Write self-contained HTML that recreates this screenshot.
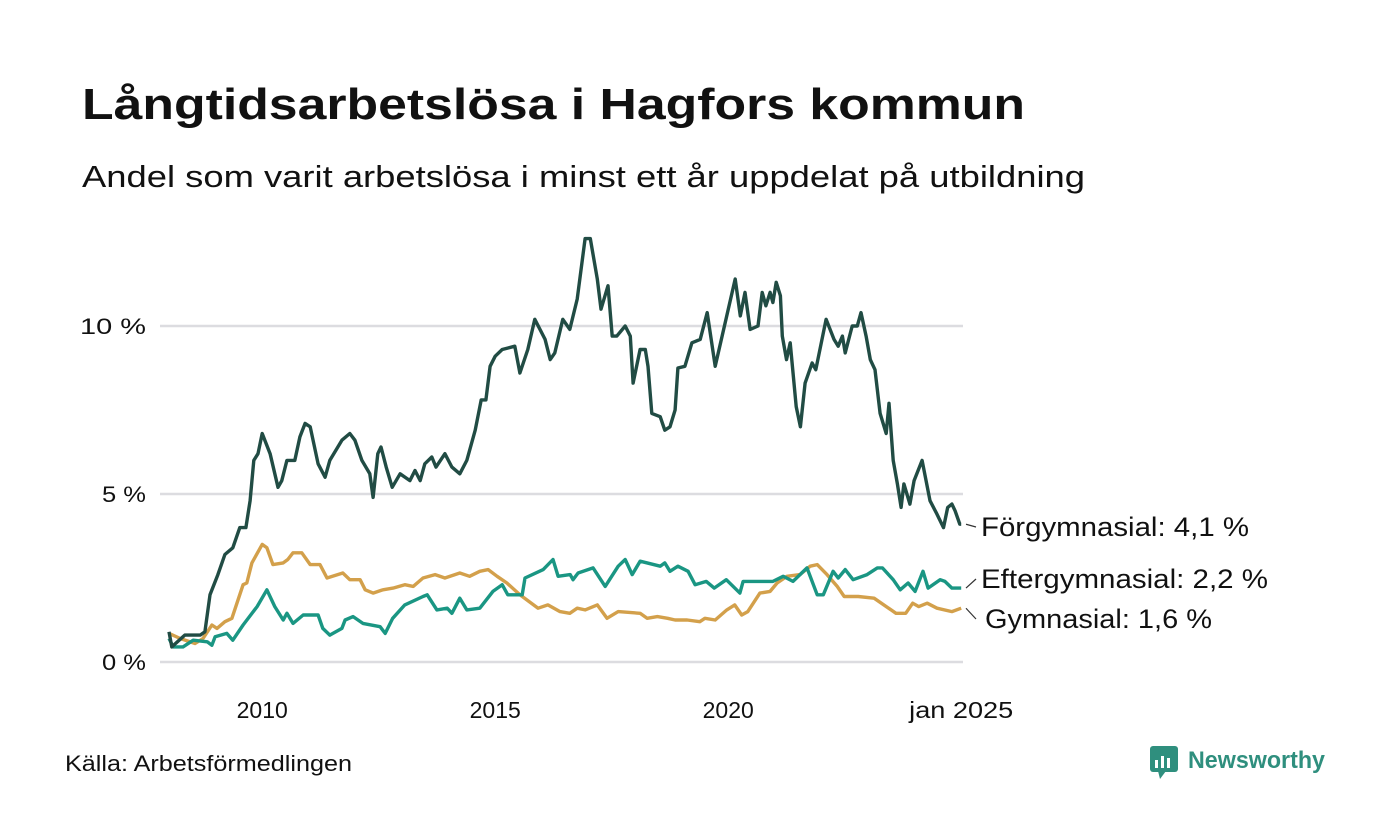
<!DOCTYPE html>
<html><head><meta charset="utf-8"><style>
html,body{margin:0;padding:0;background:#fff;}
svg{display:block;font-family:"Liberation Sans",sans-serif;}
</style></head><body>
<svg id="chart" width="1400" height="840" viewBox="0 0 1400 840">
<text x="82" y="119" font-size="44" font-weight="bold" fill="#111" textLength="943" lengthAdjust="spacingAndGlyphs">Långtidsarbetslösa i Hagfors kommun</text>
<text x="82" y="187" font-size="31" fill="#111" textLength="1003" lengthAdjust="spacingAndGlyphs">Andel som varit arbetslösa i minst ett år uppdelat på utbildning</text>
<g id="grid"></g>
<g id="xaxis"></g>
<g id="series"></g>
<g id="labels"></g>
<text x="65" y="771" font-size="22" fill="#111" textLength="287" lengthAdjust="spacingAndGlyphs">Källa: Arbetsförmedlingen</text>
<g>
<rect x="1150" y="746" width="28" height="26" rx="3" fill="#2f8f7e"/>
<polygon points="1158,771 1166,771 1160,779" fill="#2f8f7e"/>
<rect x="1155" y="760" width="3" height="8" fill="#fff"/><rect x="1161" y="756" width="3" height="12" fill="#fff"/><rect x="1167" y="758" width="3" height="10" fill="#fff"/>
<text x="1188" y="768" font-size="24" font-weight="bold" fill="#2f8f7e" textLength="137" lengthAdjust="spacingAndGlyphs">Newsworthy</text>
</g>
</svg>
<script>
const yTicks=[0,5,10];
const yTickLabels=["0 %","5 %","10 %"];
const yTickWidths=[44,44,66];
const xTicks=[2010,2015,2020,2025];
const xTickLabels=["2010","2015","2020","jan 2025"];
const forYears=[2008.0,2008.06,2008.34,2008.67,2008.77,2008.88,2009.05,2009.2,2009.37,2009.52,2009.65,2009.74,2009.82,2009.91,2010.0,2010.17,2010.34,2010.42,2010.53,2010.7,2010.81,2010.92,2011.03,2011.2,2011.35,2011.45,2011.71,2011.88,2011.99,2012.14,2012.31,2012.38,2012.48,2012.55,2012.66,2012.79,2012.96,2013.17,2013.28,2013.39,2013.49,2013.64,2013.73,2013.92,2014.07,2014.24,2014.39,2014.57,2014.7,2014.8,2014.89,2015.0,2015.15,2015.42,2015.53,2015.7,2015.85,2016.07,2016.18,2016.28,2016.45,2016.6,2016.76,2016.93,2017.04,2017.19,2017.27,2017.42,2017.51,2017.61,2017.79,2017.9,2017.96,2018.11,2018.22,2018.28,2018.36,2018.54,2018.64,2018.75,2018.86,2018.92,2019.07,2019.22,2019.4,2019.55,2019.72,2020.15,2020.26,2020.36,2020.47,2020.64,2020.73,2020.81,2020.9,2020.96,2021.03,2021.12,2021.16,2021.25,2021.33,2021.46,2021.55,2021.65,2021.8,2021.88,2022.1,2022.27,2022.36,2022.45,2022.51,2022.66,2022.77,2022.85,2022.96,2023.05,2023.15,2023.26,2023.39,2023.45,2023.54,2023.63,2023.71,2023.77,2023.9,2023.99,2024.16,2024.33,2024.48,2024.62,2024.71,2024.8,2024.87,2024.97,2025.0];
const forValues=[0.9,0.45,0.8,0.8,0.9,2.0,2.6,3.2,3.4,4.0,4.0,4.8,6.0,6.2,6.8,6.2,5.2,5.4,6.0,6.0,6.7,7.1,7.0,5.9,5.5,6.0,6.6,6.8,6.6,6.0,5.6,4.9,6.2,6.4,5.8,5.2,5.6,5.4,5.7,5.4,5.9,6.1,5.8,6.2,5.8,5.6,6.0,6.9,7.8,7.8,8.8,9.1,9.3,9.4,8.6,9.3,10.2,9.6,9.0,9.2,10.2,9.9,10.8,12.6,12.6,11.4,10.5,11.2,9.7,9.7,10.0,9.7,8.3,9.3,9.3,8.8,7.4,7.3,6.9,7.0,7.5,8.75,8.8,9.5,9.6,10.4,8.8,11.4,10.3,11.0,9.9,10.0,11.0,10.6,11.0,10.7,11.3,10.9,9.7,9.0,9.5,7.6,7.0,8.3,8.9,8.7,10.2,9.6,9.4,9.7,9.2,10.0,10.0,10.4,9.7,9.0,8.7,7.4,6.8,7.7,6.0,5.3,4.6,5.3,4.7,5.4,6.0,4.8,4.4,4.0,4.6,4.7,4.5,4.1,4.1];
const eftYears=[2008.0,2008.09,2008.3,2008.52,2008.82,2008.92,2008.99,2009.24,2009.37,2009.59,2009.89,2010.1,2010.27,2010.45,2010.53,2010.66,2010.88,2011.2,2011.3,2011.45,2011.71,2011.78,2011.95,2012.16,2012.53,2012.64,2012.8,2013.06,2013.45,2013.54,2013.75,2013.97,2014.07,2014.24,2014.39,2014.67,2014.95,2015.15,2015.27,2015.58,2015.64,2016.03,2016.24,2016.35,2016.61,2016.67,2016.78,2017.1,2017.36,2017.64,2017.79,2017.94,2018.11,2018.54,2018.64,2018.75,2018.92,2019.14,2019.29,2019.53,2019.7,2019.96,2020.25,2020.32,2020.96,2021.18,2021.39,2021.69,2021.91,2022.04,2022.25,2022.36,2022.51,2022.68,2022.98,2023.2,2023.31,2023.54,2023.69,2023.86,2024.01,2024.18,2024.29,2024.55,2024.65,2024.8,2025.0];
const eftValues=[0.7,0.45,0.45,0.65,0.6,0.5,0.75,0.85,0.65,1.1,1.65,2.15,1.65,1.25,1.45,1.15,1.4,1.4,1.0,0.8,1.0,1.25,1.35,1.15,1.05,0.85,1.3,1.7,1.95,2.0,1.55,1.6,1.45,1.9,1.55,1.6,2.1,2.3,2.0,2.0,2.5,2.75,3.05,2.55,2.6,2.45,2.65,2.8,2.25,2.85,3.05,2.6,3.0,2.85,2.95,2.7,2.85,2.7,2.3,2.4,2.2,2.45,2.05,2.4,2.4,2.55,2.4,2.8,2.0,2.0,2.7,2.5,2.75,2.45,2.6,2.8,2.8,2.45,2.15,2.35,2.1,2.7,2.2,2.45,2.4,2.2,2.2];
const gymYears=[2008.0,2008.24,2008.56,2008.73,2008.92,2009.03,2009.2,2009.35,2009.59,2009.67,2009.78,2010.0,2010.1,2010.23,2010.45,2010.55,2010.66,2010.85,2011.03,2011.24,2011.39,2011.73,2011.88,2012.1,2012.21,2012.38,2012.59,2012.81,2013.06,2013.24,2013.45,2013.71,2013.92,2014.24,2014.45,2014.67,2014.85,2015.04,2015.25,2015.53,2015.92,2016.13,2016.39,2016.6,2016.76,2016.93,2017.19,2017.4,2017.64,2018.11,2018.26,2018.48,2018.7,2018.86,2019.12,2019.39,2019.5,2019.72,2019.97,2020.14,2020.29,2020.42,2020.68,2020.9,2021.05,2021.26,2021.54,2021.76,2021.91,2022.12,2022.34,2022.49,2022.79,2023.13,2023.6,2023.81,2023.96,2024.09,2024.27,2024.48,2024.8,2025.0];
const gymValues=[0.85,0.7,0.55,0.7,1.1,1.0,1.2,1.3,2.3,2.35,2.95,3.5,3.4,2.9,2.95,3.05,3.25,3.25,2.9,2.9,2.5,2.65,2.45,2.45,2.15,2.05,2.15,2.2,2.3,2.25,2.5,2.6,2.5,2.65,2.55,2.7,2.75,2.55,2.35,2.0,1.6,1.7,1.5,1.45,1.6,1.55,1.7,1.3,1.5,1.45,1.3,1.35,1.3,1.25,1.25,1.2,1.3,1.25,1.55,1.7,1.4,1.5,2.05,2.1,2.35,2.55,2.6,2.85,2.9,2.6,2.25,1.95,1.95,1.9,1.45,1.45,1.75,1.65,1.75,1.6,1.5,1.6];
const seriesNames=["Förgymnasial: 4,1 %","Eftergymnasial: 2,2 %","Gymnasial: 1,6 %"];

const NS="http://www.w3.org/2000/svg";
const X0=169,XSCALE=46.6,Y0=662,YSCALE=33.6;
function xs(yr){return X0+(yr-2008)*XSCALE;}
function ys(v){return Y0-v*YSCALE;}
function mk(tag,attrs,parent){const e=document.createElementNS(NS,tag);for(const k in attrs)e.setAttribute(k,attrs[k]);parent.appendChild(e);return e;}

const grid=document.getElementById('grid');
yTicks.forEach((t,i)=>{
  const l=mk('line',{x1:160,x2:963,y1:ys(t),y2:ys(t),stroke:'#dcdce0','stroke-width':2.5},grid);
  
  
  const tx=mk('text',{x:146,y:ys(t)+8,'font-size':22,fill:'#111','text-anchor':'end',textLength:yTickWidths[i],lengthAdjust:'spacingAndGlyphs'},grid);
  tx.textContent=yTickLabels[i];
  
  
});
const xa=document.getElementById('xaxis');
xTicks.forEach((t,i)=>{
  const tx=mk('text',{x:xs(t),y:718,'font-size':23,fill:'#111','text-anchor':'middle'},xa);
  tx.textContent=xTickLabels[i];
  if(i===3){tx.setAttribute('textLength',104);tx.setAttribute('lengthAdjust','spacingAndGlyphs');}
  
  
});
const sg=document.getElementById('series');
function line(years,vals,color,name){
  const d=years.map((y,i)=>(i?'L':'M')+xs(y).toFixed(1)+','+ys(vals[i]).toFixed(1)).join(' ');
  const p=mk('path',{d:d,fill:'none',stroke:color,'stroke-width':3.4,'stroke-linejoin':'round'},sg);
  
  
}
line(gymYears,gymValues,'#d3a04b','line-gymnasial');
line(eftYears,eftValues,'#1a9683','line-eftergymnasial');
line(forYears,forValues,'#214c44','line-forgymnasial');

const lg=document.getElementById('labels');
const ends=[[forValues[forValues.length-1],527,268],[eftValues[eftValues.length-1],579,287],[gymValues[gymValues.length-1],619,227]];
ends.forEach((e,i)=>{
  const yEnd=ys(e[0]);
  const c=mk('line',{x1:966,y1:yEnd,x2:976,y2:e[1],stroke:'#333','stroke-width':1.2},lg);
  
  
  const t=mk('text',{x:i===2?985:981,y:e[1]+9,'font-size':27,fill:'#111',textLength:e[2],lengthAdjust:'spacingAndGlyphs'},lg);
  t.textContent=seriesNames[i];
  
  
});
</script>
</body></html>
